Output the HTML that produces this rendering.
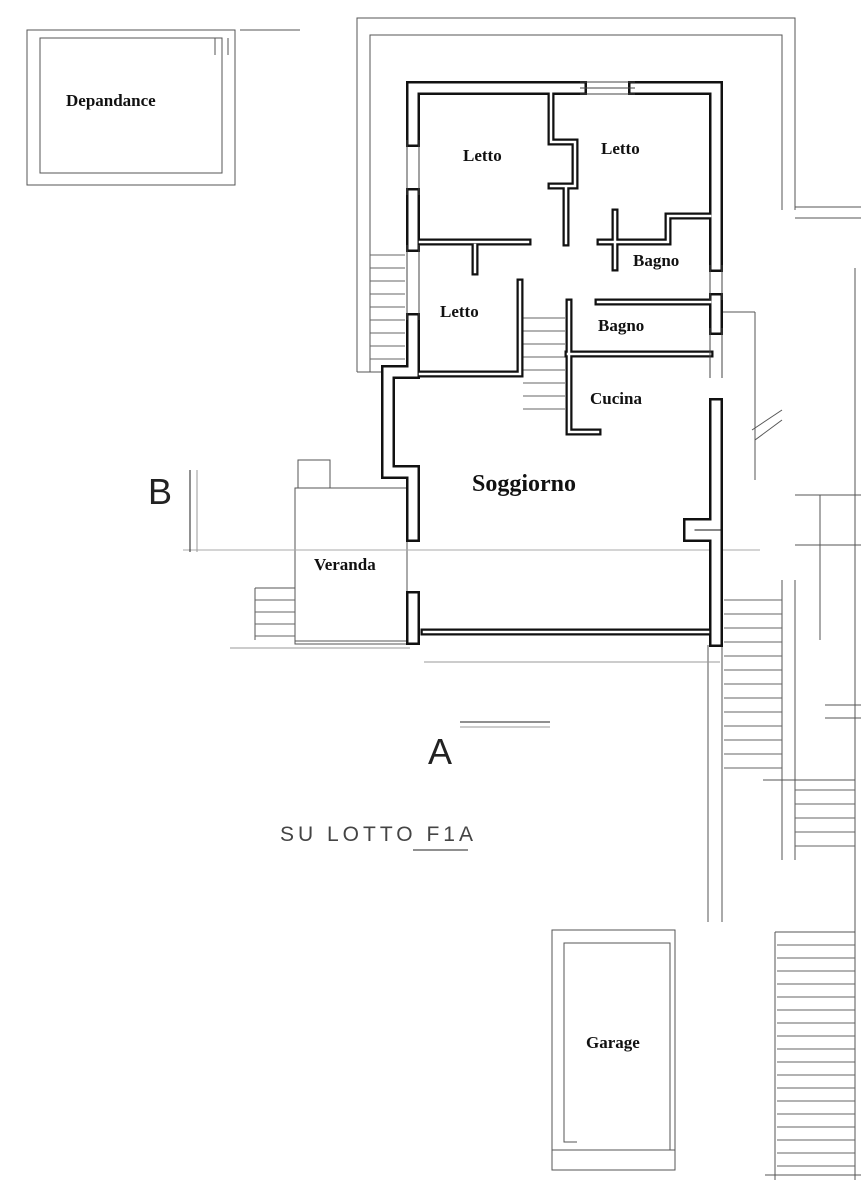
<!DOCTYPE html>
<html><head><meta charset="utf-8"><style>
html,body{margin:0;padding:0;background:#fff;}
svg{display:block}
text{font-family:"Liberation Serif",serif;font-weight:bold;fill:#111}
</style></head><body>
<svg width="861" height="1200" viewBox="0 0 861 1200" xmlns="http://www.w3.org/2000/svg">
<g fill="none" stroke="#555" stroke-width="1">
<rect x="27" y="30" width="208" height="155"/>
<rect x="40" y="38" width="182" height="135"/>
<line x1="215" y1="38" x2="215" y2="55"/><line x1="228" y1="38" x2="228" y2="55"/>
<line x1="240" y1="30" x2="300" y2="30"/>
<polyline points="357,372 357,18 795,18 795,210"/>
<polyline points="370,372 370,35 782,35 782,210"/>
<line x1="357" y1="372" x2="405" y2="372"/>
<line x1="795" y1="207" x2="861" y2="207"/><line x1="795" y1="218" x2="861" y2="218"/>
<line x1="722" y1="312" x2="755" y2="312"/><line x1="755" y1="312" x2="755" y2="480"/>
<line x1="752" y1="430" x2="782" y2="410"/><line x1="755" y1="440" x2="782" y2="420"/>
<line x1="795" y1="495" x2="861" y2="495"/><line x1="795" y1="545" x2="861" y2="545"/>
<line x1="820" y1="495" x2="820" y2="640"/>
<line x1="708" y1="645" x2="708" y2="922"/><line x1="722" y1="645" x2="722" y2="922"/>
<line x1="782" y1="580" x2="782" y2="860"/><line x1="795" y1="580" x2="795" y2="860"/>
<line x1="825" y1="705" x2="861" y2="705"/><line x1="825" y1="718" x2="861" y2="718"/>
<line x1="855" y1="268" x2="855" y2="1180"/>
<rect x="298" y="460" width="32" height="28"/>
<rect x="295" y="488" width="112" height="156"/>
<line x1="295" y1="641" x2="407" y2="641"/>
<line x1="255" y1="588" x2="295" y2="588"/><line x1="255" y1="588" x2="255" y2="640"/>
<line x1="183" y1="550" x2="760" y2="550" stroke="#aaa"/>
<line x1="424" y1="662" x2="720" y2="662" stroke="#999"/>
<line x1="230" y1="648" x2="410" y2="648" stroke="#999"/>
<rect x="552" y="930" width="123" height="240"/>
<polyline points="577,1142 564,1142 564,943 670,943 670,1150"/>
<line x1="552" y1="1150" x2="675" y2="1150"/>
<line x1="775" y1="932" x2="855" y2="932"/><line x1="775" y1="932" x2="775" y2="1180"/>
<line x1="765" y1="1175" x2="861" y2="1175"/>
<line x1="763" y1="780" x2="855" y2="780"/>
</g>
<g stroke="#666" stroke-width="1">
<line x1="370" y1="255" x2="405" y2="255"/><line x1="370" y1="268" x2="405" y2="268"/><line x1="370" y1="281" x2="405" y2="281"/><line x1="370" y1="294" x2="405" y2="294"/><line x1="370" y1="307" x2="405" y2="307"/><line x1="370" y1="320" x2="405" y2="320"/><line x1="370" y1="333" x2="405" y2="333"/><line x1="370" y1="346" x2="405" y2="346"/><line x1="370" y1="359" x2="405" y2="359"/>
<line x1="523" y1="318" x2="565" y2="318"/><line x1="523" y1="331" x2="565" y2="331"/><line x1="523" y1="344" x2="565" y2="344"/><line x1="523" y1="357" x2="565" y2="357"/><line x1="523" y1="370" x2="565" y2="370"/><line x1="523" y1="383" x2="565" y2="383"/><line x1="523" y1="396" x2="565" y2="396"/><line x1="523" y1="409" x2="565" y2="409"/>
<line x1="255" y1="600" x2="295" y2="600"/><line x1="255" y1="612" x2="295" y2="612"/><line x1="255" y1="624" x2="295" y2="624"/><line x1="255" y1="636" x2="295" y2="636"/>
<line x1="724" y1="600" x2="782" y2="600"/><line x1="724" y1="614" x2="782" y2="614"/><line x1="724" y1="628" x2="782" y2="628"/><line x1="724" y1="642" x2="782" y2="642"/><line x1="724" y1="656" x2="782" y2="656"/><line x1="724" y1="670" x2="782" y2="670"/><line x1="724" y1="684" x2="782" y2="684"/><line x1="724" y1="698" x2="782" y2="698"/><line x1="724" y1="712" x2="782" y2="712"/><line x1="724" y1="726" x2="782" y2="726"/><line x1="724" y1="740" x2="782" y2="740"/><line x1="724" y1="754" x2="782" y2="754"/><line x1="724" y1="768" x2="782" y2="768"/>
<line x1="795" y1="790" x2="855" y2="790"/><line x1="795" y1="804" x2="855" y2="804"/><line x1="795" y1="818" x2="855" y2="818"/><line x1="795" y1="832" x2="855" y2="832"/><line x1="795" y1="846" x2="855" y2="846"/>
<line x1="777" y1="945" x2="855" y2="945"/><line x1="777" y1="958" x2="855" y2="958"/><line x1="777" y1="971" x2="855" y2="971"/><line x1="777" y1="984" x2="855" y2="984"/><line x1="777" y1="997" x2="855" y2="997"/><line x1="777" y1="1010" x2="855" y2="1010"/><line x1="777" y1="1023" x2="855" y2="1023"/><line x1="777" y1="1036" x2="855" y2="1036"/><line x1="777" y1="1049" x2="855" y2="1049"/><line x1="777" y1="1062" x2="855" y2="1062"/><line x1="777" y1="1075" x2="855" y2="1075"/><line x1="777" y1="1088" x2="855" y2="1088"/><line x1="777" y1="1101" x2="855" y2="1101"/><line x1="777" y1="1114" x2="855" y2="1114"/><line x1="777" y1="1127" x2="855" y2="1127"/><line x1="777" y1="1140" x2="855" y2="1140"/><line x1="777" y1="1153" x2="855" y2="1153"/><line x1="777" y1="1166" x2="855" y2="1166"/>
</g>
<g fill="none" stroke-linejoin="miter" stroke-linecap="square">
<g stroke="#111" stroke-width="14">
<polyline points="580,88 413,88 413,140"/><polyline points="635,88 716,88 716,265"/>
<polyline points="413,195 413,245"/><polyline points="413,320 413,372 388,372 388,472 413,472 413,535"/>
<line x1="413" y1="598" x2="413" y2="638"/>
<polyline points="716,300 716,328"/><polyline points="716,405 716,525 690,525 690,535 716,535 716,640"/>
</g>
<g stroke="#111" stroke-width="7">
<line x1="424" y1="632" x2="708" y2="632"/>
<polyline points="551,92 551,142 575,142 575,186 551,186"/>
<line x1="566" y1="188" x2="566" y2="243"/>
<line x1="420" y1="242" x2="528" y2="242"/>
<line x1="475" y1="245" x2="475" y2="272"/>
<polyline points="520,282 520,374 420,374"/>
<polyline points="600,242 668,242 668,216 710,216"/>
<line x1="615" y1="212" x2="615" y2="268"/>
<line x1="598" y1="302" x2="710" y2="302"/>
<polyline points="710,354 568,354"/>
<polyline points="569,302 569,432 598,432"/>
</g>
<g stroke="#fff" stroke-width="9">
<polyline points="580,88 413,88 413,140"/><polyline points="635,88 716,88 716,265"/>
<polyline points="413,195 413,245"/><polyline points="413,320 413,372 388,372 388,472 413,472 413,535"/>
<line x1="413" y1="598" x2="413" y2="638"/>
<polyline points="716,300 716,328"/><polyline points="716,405 716,525 690,525 690,535 716,535 716,640"/>
</g>
<g stroke="#fff" stroke-width="2.5">
<line x1="424" y1="632" x2="708" y2="632"/>
<polyline points="551,92 551,142 575,142 575,186 551,186"/>
<line x1="566" y1="188" x2="566" y2="243"/>
<line x1="420" y1="242" x2="528" y2="242"/>
<line x1="475" y1="245" x2="475" y2="272"/>
<polyline points="520,282 520,374 420,374"/>
<polyline points="600,242 668,242 668,216 710,216"/>
<line x1="615" y1="212" x2="615" y2="268"/>
<line x1="598" y1="302" x2="710" y2="302"/>
<polyline points="710,354 568,354"/>
<polyline points="569,302 569,432 598,432"/>
</g>
</g>
<g stroke="#444" stroke-width="1">
<line x1="580" y1="82" x2="635" y2="82"/><line x1="580" y1="94" x2="635" y2="94"/><line x1="580" y1="88" x2="635" y2="88"/>
<line x1="407" y1="140" x2="407" y2="195"/><line x1="419" y1="140" x2="419" y2="195"/>
<line x1="407" y1="245" x2="407" y2="320"/><line x1="419" y1="245" x2="419" y2="320"/>
<line x1="710" y1="265" x2="710" y2="300"/><line x1="722" y1="265" x2="722" y2="300"/>
<line x1="710" y1="328" x2="710" y2="378"/><line x1="722" y1="328" x2="722" y2="378"/>
<line x1="190" y1="470" x2="190" y2="552" stroke="#222"/><line x1="197" y1="470" x2="197" y2="552" stroke="#999"/>
<line x1="460" y1="722" x2="550" y2="722" stroke="#222"/><line x1="460" y1="727" x2="550" y2="727" stroke="#999"/>
<line x1="413" y1="850" x2="468" y2="850" stroke="#222"/>
</g>
<text x="66" y="106" font-size="17">Depandance</text>
<text x="463" y="161" font-size="17">Letto</text>
<text x="601" y="154" font-size="17">Letto</text>
<text x="633" y="266" font-size="17">Bagno</text>
<text x="440" y="317" font-size="17">Letto</text>
<text x="598" y="331" font-size="17">Bagno</text>
<text x="590" y="404" font-size="17">Cucina</text>
<text x="472" y="491" font-size="24">Soggiorno</text>
<text x="314" y="570" font-size="17">Veranda</text>
<text x="586" y="1048" font-size="17">Garage</text>
<text x="148" y="504" font-size="36" style="font-family:'Liberation Sans',sans-serif;font-weight:normal;fill:#222">B</text>
<text x="428" y="764" font-size="36" style="font-family:'Liberation Sans',sans-serif;font-weight:normal;fill:#222">A</text>
<text x="280" y="841" font-size="21" letter-spacing="4" style="font-family:'Liberation Sans',sans-serif;font-weight:normal;fill:#444">SU LOTTO F1A</text>
</svg>
</body></html>
